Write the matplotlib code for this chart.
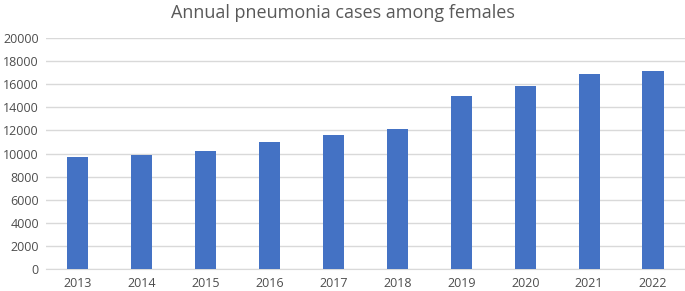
import matplotlib.pyplot as plt

years = ['2013', '2014', '2015', '2016', '2017', '2018', '2019', '2020', '2021', '2022']
cases = [9700, 9900, 10250, 11000, 11600, 12100, 14980, 15850, 16900, 17150]
yticks = [0, 2000, 4000, 6000, 8000, 10000, 12000, 14000, 16000, 18000, 20000]

plt.rcParams['font.family'] = ['Open Sans', 'DejaVu Sans']

fig = plt.figure(figsize=(6.85, 2.91), dpi=100)
ax = fig.add_axes([0.067, 0.0756, 0.933, 0.7935])

ax.bar(range(len(years)), cases, width=0.33, color='#4472C4', zorder=3)

ax.set_xlim(-0.5, len(years) - 0.5)
ax.set_ylim(0, 20000)
ax.set_yticks(yticks)
ax.set_yticklabels([str(v) for v in yticks])
ax.set_xticks(range(len(years)))
ax.set_xticklabels(years)

ax.grid(axis='y', color='#D9D9D9', linewidth=1, zorder=0)
for s in ['top', 'right', 'left']:
    ax.spines[s].set_visible(False)
ax.spines['bottom'].set_color('#D9D9D9')
ax.tick_params(axis='both', length=0, labelsize=9, colors='#4d4d4d')
ax.tick_params(axis='x', pad=6)
ax.tick_params(axis='y', pad=5)

fig.text(0.5, 0.955, 'Annual pneumonia cases among females', ha='center', va='center',
         fontsize=13, color='#595959')

fig.savefig('out.png', dpi=100)
